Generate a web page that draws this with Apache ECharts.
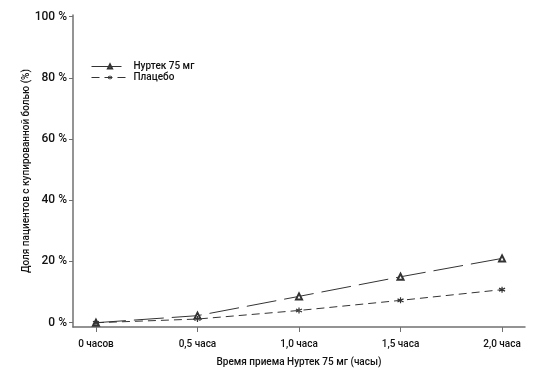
<!DOCTYPE html>
<html><head><meta charset="utf-8">
<script src="https://cdn.jsdelivr.net/npm/echarts@6/dist/echarts.min.js"></script>
<style>html,body{margin:0;padding:0;background:#fff}#c{width:540px;height:379px}</style>
</head><body><div id="c"></div>
<script>
var hours = [0, 0.5, 1.0, 1.5, 2.0];
var hourLabels = ['0 часов', '0,5 часа', '1,0 часа', '1,5 часа', '2,0 часа'];
var nurtec = [0, 2.3, 8.6, 15.0, 21.0];
var placebo = [0, 1.2, 4.0, 7.3, 10.8];
var yTicks = [0, 20, 40, 60, 80, 100];

var chart = echarts.init(document.getElementById('c'));
var font = 'Roboto, "Liberation Sans", sans-serif';
var axisColor = '#707070';
var txt = '#111';
var fw = 500;
chart.setOption({
  animation: false,
  textStyle: {fontFamily: font},
  grid: {left: 73, right: 15, top: 15, bottom: 52},
  legend: {
    orient: 'vertical', left: 86, top: 56, itemWidth: 37, itemHeight: 5, itemGap: 0,
    textStyle: {fontFamily: font, fontSize: 10, color: txt, lineHeight: 11, fontWeight: fw},
    lineStyle: {width: 1},
    itemStyle: {borderWidth: 1},
    data: ['Нуртек 75 мг', 'Плацебо']
  },
  xAxis: {
    type: 'value', min: -0.113, max: 2.113,
    axisLine: {show: true, onZero: false, lineStyle: {color: axisColor, width: 1.5}},
    axisTick: {show: true, customValues: hours, length: 5, lineStyle: {color: axisColor}},
    axisLabel: {customValues: hours, margin: 12, color: txt, fontSize: 10, fontWeight: fw,
      formatter: function (v) { var i = hours.indexOf(v); return i >= 0 ? hourLabels[i] : ''; }},
    splitLine: {show: false},
    name: 'Время приема Нуртек 75 мг (часы)', nameLocation: 'middle', nameGap: 30,
    nameTextStyle: {color: txt, fontSize: 10, fontWeight: fw}
  },
  yAxis: {
    type: 'value', min: -1.4, max: 100.5,
    axisLine: {show: true, onZero: false, lineStyle: {color: axisColor, width: 1.5}},
    axisTick: {show: true, customValues: yTicks, length: 4, lineStyle: {color: axisColor}},
    axisLabel: {customValues: yTicks, margin: 6, color: txt, fontSize: 12, fontWeight: fw,
      formatter: function (v) { return v + ' %'; }},
    splitLine: {show: false},
    name: 'Доля пациентов с купированной болью (%)', nameLocation: 'middle', nameGap: 42,
    nameMoveOverlap: false,
    nameTextStyle: {color: txt, fontSize: 10, fontWeight: fw}
  },
  series: [
    {
      name: 'Нуртек 75 мг', type: 'line',
      data: hours.map(function (h, i) { return [h, nurtec[i]]; }),
      symbol: 'emptyTriangle', symbolSize: 6,
      lineStyle: {color: '#333', width: 1, type: [30, 8]},
      itemStyle: {color: '#333', borderColor: '#333', borderWidth: 1}
    },
    {
      name: 'Плацебо', type: 'line',
      data: hours.map(function (h, i) { return [h, placebo[i]]; }),
      symbol: 'path://M0,-5L0,5M-4.3,-2.5L4.3,2.5M-4.3,2.5L4.3,-2.5', symbolSize: 6,
      lineStyle: {color: '#333', width: 1, type: [8, 5]},
      itemStyle: {color: '#333', borderColor: '#333', borderWidth: 1.2}
    }
  ]
});
</script></body></html>
